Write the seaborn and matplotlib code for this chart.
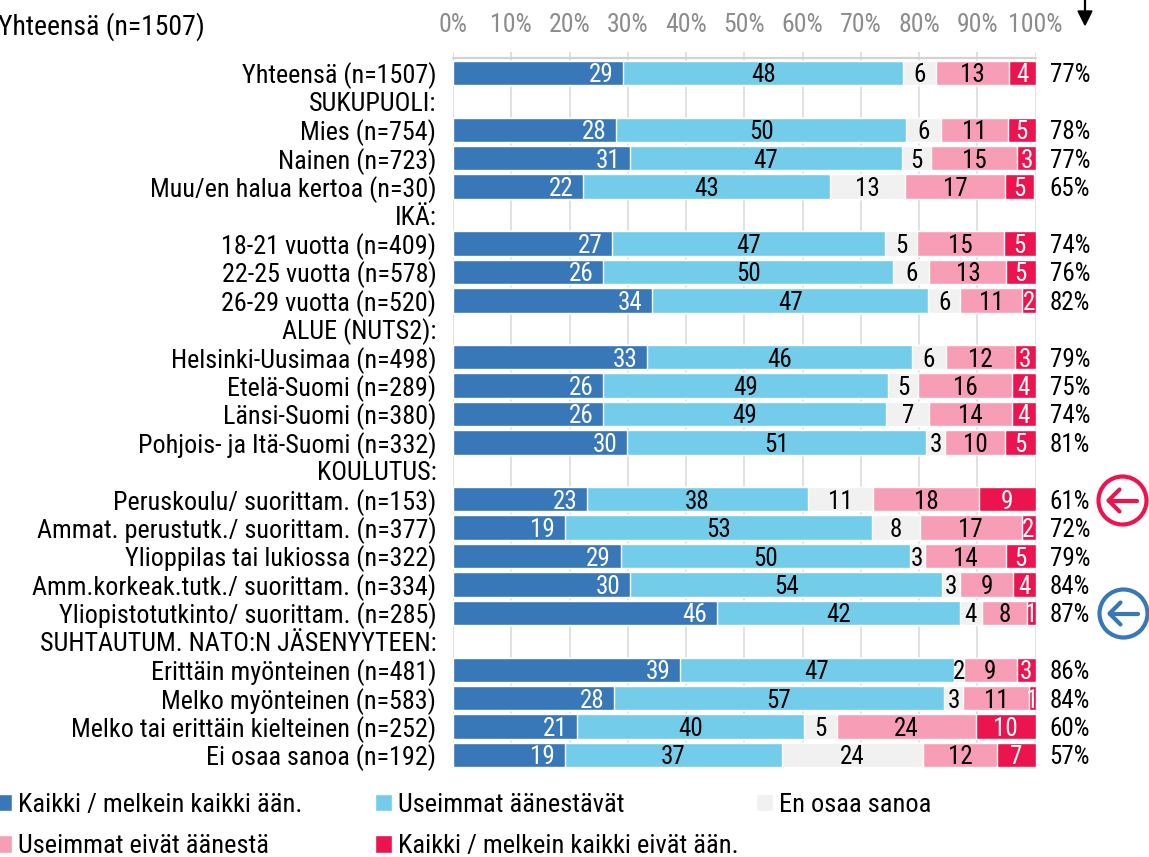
import numpy as np
import matplotlib
matplotlib.use("Agg")
import matplotlib.pyplot as plt
from matplotlib.patches import Circle, Patch
from matplotlib.lines import Line2D
from matplotlib.transforms import IdentityTransform
import seaborn as sns

W, H = 1149, 857
sns.set_style("white")
plt.rcParams['font.family'] = ['Roboto Condensed', 'Barlow Condensed', 'DejaVu Sans']

rows = ["Yhteensä (n=1507)", "SUKUPUOLI:", "Mies (n=754)", "Nainen (n=723)", "Muu/en halua kertoa (n=30)",
        "IKÄ:", "18-21 vuotta (n=409)", "22-25 vuotta (n=578)", "26-29 vuotta (n=520)",
        "ALUE (NUTS2):", "Helsinki-Uusimaa (n=498)", "Etelä-Suomi (n=289)", "Länsi-Suomi (n=380)",
        "Pohjois- ja Itä-Suomi (n=332)", "KOULUTUS:", "Peruskoulu/ suorittam. (n=153)",
        "Ammat. perustutk./ suorittam. (n=377)", "Ylioppilas tai lukiossa (n=322)",
        "Amm.korkeak.tutk./ suorittam. (n=334)", "Yliopistotutkinto/ suorittam. (n=285)",
        "SUHTAUTUM. NATO:N JÄSENYYTEEN:", "Erittäin myönteinen (n=481)", "Melko myönteinen (n=583)",
        "Melko tai erittäin kielteinen (n=252)", "Ei osaa sanoa (n=192)"]
n = np.nan
all_yes = [29.2, n, 28.0, 30.4, 22.3, n, 27.3, 25.8, 34.2, n, 33.3, 25.8, 25.8, 29.9, n, 23.0, 19.2, 28.8, 30.4, 45.3, n, 39.0, 27.6, 21.3, 19.2]
most_yes = [48.1, n, 49.8, 46.7, 42.4, n, 46.9, 49.8, 47.4, n, 45.5, 48.9, 48.6, 51.3, n, 37.9, 52.7, 49.6, 53.6, 41.7, n, 47.0, 56.7, 39.0, 37.3]
dont_know = [5.7, n, 6.0, 5.0, 12.9, n, 5.5, 6.2, 5.5, n, 5.8, 5.2, 7.4, 3.3, n, 11.2, 8.2, 2.6, 3.1, 3.8, n, 1.7, 3.3, 5.7, 24.2]
most_no = [12.4, n, 11.5, 14.8, 17.2, n, 14.9, 13.2, 10.6, n, 11.8, 16.0, 14.1, 10.3, n, 18.2, 17.5, 13.9, 9.1, 7.7, n, 9.1, 11.2, 23.7, 12.7]
all_no = [4.6, n, 4.7, 3.2, 5.0, n, 5.4, 5.0, 2.3, n, 3.6, 4.1, 4.1, 5.2, n, 9.7, 2.4, 5.1, 3.8, 1.5, n, 3.2, 1.2, 10.3, 6.6]

lab_all_yes = [29, None, 28, 31, 22, None, 27, 26, 34, None, 33, 26, 26, 30, None, 23, 19, 29, 30, 46, None, 39, 28, 21, 19]
lab_most_yes = [48, None, 50, 47, 43, None, 47, 50, 47, None, 46, 49, 49, 51, None, 38, 53, 50, 54, 42, None, 47, 57, 40, 37]
lab_dont_know = [6, None, 6, 5, 13, None, 5, 6, 6, None, 6, 5, 7, 3, None, 11, 8, 3, 3, 4, None, 2, 3, 5, 24]
lab_most_no = [13, None, 11, 15, 17, None, 15, 13, 11, None, 12, 16, 14, 10, None, 18, 17, 14, 9, 8, None, 9, 11, 24, 12]
lab_all_no = [4, None, 5, 3, 5, None, 5, 5, 2, None, 3, 4, 4, 5, None, 9, 2, 5, 4, 1, None, 3, 1, 10, 7]
totals = [77, None, 78, 77, 65, None, 74, 76, 82, None, 79, 75, 74, 81, None, 61, 72, 79, 84, 87, None, 86, 84, 60, 57]

series_names = ["Kaikki / melkein kaikki ään.", "Useimmat äänestävät", "En osaa sanoa",
                "Useimmat eivät äänestä", "Kaikki / melkein kaikki eivät ään."]
colors = ["#3878B8", "#73CDEA", "#F1F1F1", "#F89DB6", "#EC144F"]
ticks = list(range(0, 101, 10))

series = [all_yes, most_yes, dont_know, most_no, all_no]
labels = [lab_all_yes, lab_most_yes, lab_dont_know, lab_most_no, lab_all_no]
label_colors = ["white", "black", "black", "black", "white"]

fig = plt.figure(figsize=(W / 100, H / 100), dpi=100)
L, R, T, B = 453.0, 1035.5, 52.0, 767.0
ax = fig.add_axes([L / W, 1 - B / H, (R - L) / W, (B - T) / H])

cum = np.cumsum(np.array(series, dtype=float), axis=0)
for k in range(4, -1, -1):
    sns.barplot(x=cum[k], y=rows, order=rows, orient="h", color=colors[k], saturation=1,
                width=0.86, ax=ax, linewidth=1.0, edgecolor="white", zorder=3)

ax.set_xlim(0, 100)
row_h = (755 - 73) / 24
ax.set_ylim((B - 73) / row_h, (T - 73) / row_h)
for s in ax.spines.values():
    s.set_visible(False)
ax.set_xlabel("")
ax.set_ylabel("")

for t in ticks:
    ax.axvline(t, color="#DEDEDE", lw=1.3, zorder=1)
ax.plot([0, 100], [(58 - 73) / row_h] * 2, color="#D2D2D2", lw=1.6, zorder=1, clip_on=False)

fs = 18
ax.xaxis.tick_top()
ax.set_xticks(ticks)
ax.set_xticklabels([f"{t}%" for t in ticks], fontsize=18.5, color="#8C8C8C")
ax.tick_params(axis="x", length=0, pad=11)
ax.tick_params(axis="y", length=0, pad=12, labelsize=18.8, labelcolor="black")

for k in range(5):
    for i in range(len(rows)):
        v = labels[k][i]
        if v is None:
            continue
        start = cum[k - 1][i] if k else 0
        end = cum[k][i]
        if k == 0:
            ax.annotate(str(v), (end, i), xytext=(-7, 0), textcoords="offset points",
                        ha="right", va="center_baseline", color=label_colors[k], fontsize=fs, zorder=5)
        else:
            ax.text((start + end) / 2, i, str(v), ha="center", va="center_baseline",
                    color=label_colors[k], fontsize=fs, zorder=5)

for i, v in enumerate(totals):
    if v is not None:
        ax.annotate(f"{v}%", (100, i), xytext=(10.2, 0), textcoords="offset points",
                    ha="left", va="center_baseline", fontsize=fs, color="black", annotation_clip=False)

fig.text(-2 / W, 1 - 23 / H, "Yhteensä (n=1507)", fontsize=20, va="center_baseline", ha="left", color="black")

# legend columns
col_x = [-5, 375, 756]
col_members = [[0, 3], [1, 4], [2]]
for x, mem in zip(col_x, col_members):
    leg = fig.legend(handles=[Patch(facecolor=colors[m], label=series_names[m]) for m in mem],
                     loc="upper left", bbox_to_anchor=(x / W, 1 - 793 / H), frameon=False,
                     fontsize=19, handlelength=0.644, handleheight=0.644, handletextpad=0.22,
                     labelspacing=0.66, borderpad=0, borderaxespad=0, labelcolor="black")

# decorations in pixel coordinates
ident = IdentityTransform()
def px(x, y):
    return (x, H - y)

fig.add_artist(Line2D([1085, 1085], [H, H - 14], transform=ident, color="black", lw=1.6))
ax.fill([1078, 1092, 1085], [H - 11, H - 11, H - 25], transform=ident, color="black", clip_on=False, zorder=6)

for (cx, cy, col) in [(1122.5, 500.5, "#EC144F"), (1123.5, 613.5, "#3878B8")]:
    fig.add_artist(Circle(px(cx, cy), 24, transform=ident, fill=False, edgecolor=col, lw=3.0))
    fig.add_artist(Line2D([cx + 14, cx - 14], [H - cy, H - cy], transform=ident, color=col, lw=3.0,
                          solid_capstyle="round"))
    fig.add_artist(Line2D([cx - 3, cx - 14, cx - 3], [H - cy + 11, H - cy, H - cy - 11], transform=ident,
                          color=col, lw=3.0, solid_capstyle="round", solid_joinstyle="round"))

fig.savefig("out.png", dpi=100)
